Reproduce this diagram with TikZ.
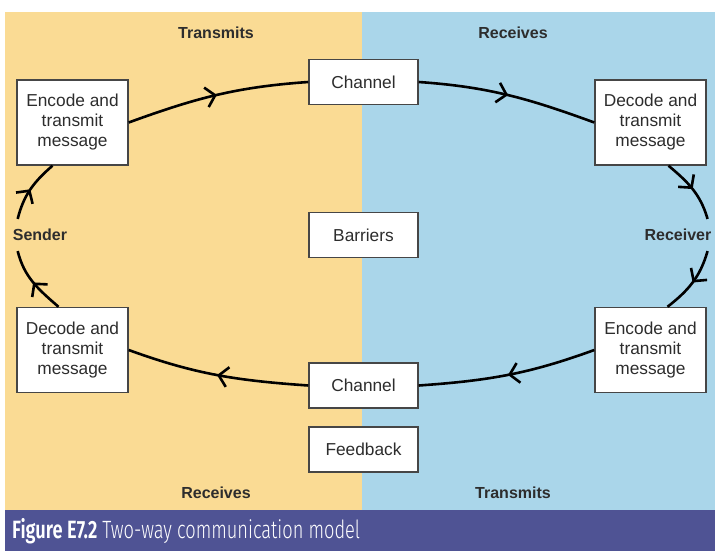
\documentclass[tikz,border=0pt]{standalone}
\usepackage{fontspec}
\setmainfont{Liberation Sans}
\newfontfamily\capfont[FakeStretch=0.73,UprightFont=* Light,BoldFont=* SemiBold]{Fira Sans}
\usetikzlibrary{arrows.meta,decorations.markings}
\definecolor{sendside}{RGB}{250,219,148}
\definecolor{recvside}{RGB}{170,214,234}
\definecolor{capbar}{RGB}{79,83,148}
\definecolor{boxline}{RGB}{70,70,70}
\definecolor{inktext}{RGB}{45,45,45}

\begin{document}
\begin{tikzpicture}[x=1pt,y=1pt,
    box/.style={draw=boxline,line width=1.4pt,fill=white,text=inktext,align=center,
      font=\fontsize{17.3}{20}\selectfont,inner sep=0pt},
    msgbox/.style={box,minimum width=111pt,minimum height=85pt},
    chanbox/.style={box,minimum width=109pt,minimum height=45pt},
    side/.style={text=inktext,font=\fontsize{16}{18}\selectfont\bfseries},
    flow/.style={line width=2.6pt,postaction={decorate},decoration={markings,
      mark=at position 0.5 with {\arrow{Straight Barb[length=9pt,width=20pt]}}}}]
    \useasboundingbox (0,0) rectangle (715,-551);
    % the two halves and the caption bar
    \fill[sendside] (5,-12) rectangle (362,-510);
    \fill[recvside] (362,-12) rectangle (715,-510);
    \fill[capbar] (5,-510) rectangle (715,-551);

    \node[side] (txtop) at (216,-33) {Transmits};
    \node[side] (rxtop) at (513,-33) {Receives};
    \node[side] (rxbot) at (216,-493) {Receives};
    \node[side] (txbot) at (513,-493) {Transmits};

    \node[msgbox] (enc1) at (72.5,-122.5) {Encode and\\transmit\\message};
    \node[msgbox] (dec1) at (650.5,-122.5) {Decode and\\transmit\\message};
    \node[msgbox] (dec2) at (72.5,-350) {Decode and\\transmit\\message};
    \node[msgbox] (enc2) at (650.5,-350) {Encode and\\transmit\\message};

    \node[chanbox] (chan1) at (363.5,-82) {Channel};
    \node[chanbox] (barriers) at (363.5,-235) {Barriers};
    \node[chanbox] (chan2) at (363.5,-385.5) {Channel};
    \node[chanbox] (feedback) at (363.5,-449.5) {Feedback};

    \node[side,inner xsep=0pt,inner ysep=10pt] (sender) at (40,-235) {Sender};
    \node[side,inner xsep=0pt,inner ysep=10pt] (receiver) at (678,-235) {Receiver};

    % loop round the ellipse
    \draw[flow] (enc1.east) to[out=20,in=184] (chan1.west);
    \draw[flow] (chan1.east) to[out=-4,in=160] (dec1.west);
    \draw[flow] ([xshift=18pt]dec1.south) to[out=-40,in=106] ([xshift=-4pt]receiver.north east);
    \draw[flow] ([xshift=-4pt]receiver.south east) to[out=-106,in=38] ([xshift=17pt]enc2.north);
    \draw[flow] (enc2.west) to[out=200,in=4] (chan2.east);
    \draw[flow] (chan2.west) to[out=176,in=-20] (dec2.east);
    \draw[flow] ([xshift=-14pt]dec2.north) to[out=139,in=-76] ([xshift=5pt]sender.south west);
    \draw[flow] ([xshift=5pt]sender.north west) to[out=76,in=221] ([xshift=-20pt]enc1.south);

    \node[anchor=west,text=white,inner sep=0pt,font=\capfont\fontsize{25}{28}\selectfont]
      (caption) at (12,-531) {\textbf{Figure E7.2} Two-way communication model};
\end{tikzpicture}
\end{document}
